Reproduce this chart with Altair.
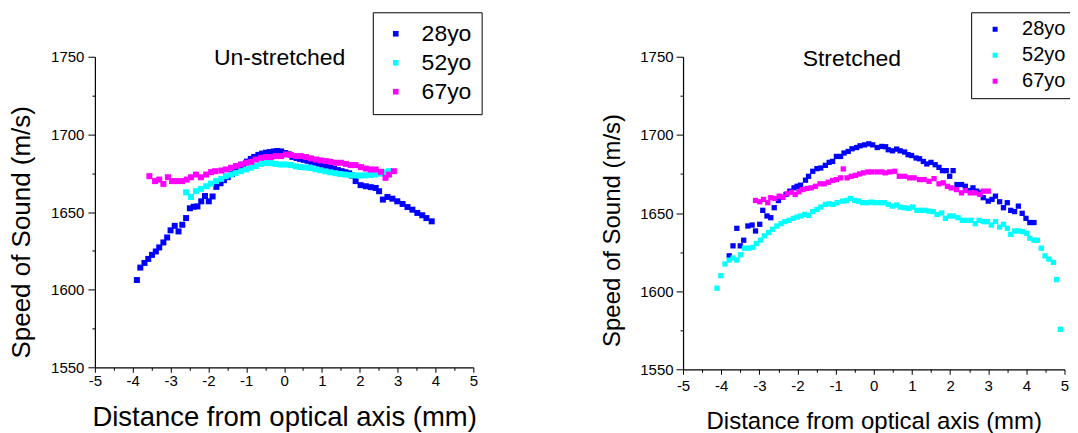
import altair as alt
import pandas as pd

AGES = ["28yo", "52yo", "67yo"]
COLORS = ["#0000ff", "#00ffff", "#ff00ff"]

X_MAJOR = [-5, -4, -3, -2, -1, 0, 1, 2, 3, 4, 5]
X_MINOR = [-4.5, -3.5, -2.5, -1.5, -0.5, 0.5, 1.5, 2.5, 3.5, 4.5]
Y_MAJOR = [1550, 1600, 1650, 1700, 1750]
Y_MINOR = [1575, 1625, 1675, 1725]

unstretched_28 = [(-3.89,1606.2),(-3.80,1614.2),(-3.69,1617.2),(-3.59,1619.8),(-3.49,1622.4),(-3.39,1624.6),(-3.30,1627.2),(-3.19,1630.4),(-3.09,1633.6),(-3.00,1638.2),(-2.89,1641.1),(-2.79,1637.5),(-2.69,1641.8),(-2.59,1646.1),(-2.49,1652.4),(-2.39,1653.4),(-2.29,1653.6),(-2.19,1656.9),(-2.09,1660.3),(-1.99,1656.9),(-1.89,1660.0),(-1.79,1666.2),(-1.68,1668.5),(-1.59,1670.5),(-1.49,1672.5),(-1.38,1674.5),(-1.29,1676.5),(-1.18,1678.5),(-1.08,1680.5),(-0.98,1682.5),(-0.88,1684.2),(-0.79,1685.5),(-0.68,1686.8),(-0.58,1687.6),(-0.48,1688.2),(-0.38,1688.6),(-0.27,1689.0),(-0.18,1689.3),(-0.08,1689.0),(0.03,1688.0),(0.12,1687.2),(0.22,1685.5),(0.33,1684.8),(0.42,1684.2),(0.52,1683.6),(0.62,1683.0),(0.72,1682.4),(0.82,1681.8),(0.92,1681.0),(1.02,1680.2),(1.12,1679.5),(1.22,1678.6),(1.32,1677.8),(1.42,1677.0),(1.52,1676.3),(1.62,1675.6),(1.72,1674.9),(1.79,1673.5),(1.89,1669.9),(2.02,1667.3),(2.16,1666.6),(2.29,1666.0),(2.42,1665.5),(2.51,1663.4),(2.61,1658.0),(2.73,1659.7),(2.86,1658.6),(2.99,1656.9),(3.13,1655.2),(3.26,1653.2),(3.39,1651.5),(3.52,1649.4),(3.65,1647.9),(3.76,1646.1),(3.90,1644.0)]
unstretched_52 = [(-2.59,1662.7),(-2.46,1659.7),(-2.33,1663.4),(-2.20,1664.9),(-2.06,1666.6),(-1.93,1668.3),(-1.80,1669.9),(-1.66,1671.3),(-1.54,1673.1),(-1.40,1674.1),(-1.28,1675.2),(-1.14,1676.3),(-1.01,1677.4),(-0.88,1678.5),(-0.75,1679.6),(-0.62,1681.0),(-0.49,1681.5),(-0.35,1681.5),(-0.23,1681.0),(-0.09,1680.6),(0.04,1680.6),(0.17,1680.3),(0.31,1679.4),(0.43,1679.0),(0.57,1678.7),(0.69,1678.4),(0.83,1677.5),(0.96,1676.9),(1.09,1676.2),(1.22,1675.6),(1.35,1675.0),(1.48,1674.5),(1.62,1674.1),(1.75,1673.8),(1.88,1673.6),(2.01,1673.5),(2.14,1673.6),(2.28,1673.8),(2.40,1674.2),(2.54,1674.7),(2.66,1675.5),(2.77,1676.3)]
unstretched_67 = [(-3.56,1673.1),(-3.41,1669.9),(-3.30,1670.9),(-3.19,1668.1),(-3.07,1672.4),(-2.96,1669.9),(-2.84,1669.9),(-2.70,1669.9),(-2.57,1670.9),(-2.46,1672.4),(-2.33,1674.1),(-2.20,1672.4),(-2.06,1674.1),(-1.93,1675.7),(-1.82,1676.3),(-1.66,1676.7),(-1.54,1677.4),(-1.40,1678.5),(-1.27,1679.6),(-1.14,1680.6),(-1.01,1681.7),(-0.87,1682.3),(-0.75,1683.8),(-0.61,1684.9),(-0.48,1685.4),(-0.35,1685.4),(-0.22,1686.0),(-0.08,1686.0),(0.05,1687.1),(0.18,1686.7),(0.32,1686.0),(0.44,1686.0),(0.58,1685.4),(0.71,1684.5),(0.84,1683.8),(0.97,1683.2),(1.11,1682.8),(1.23,1682.3),(1.37,1681.7),(1.50,1681.7),(1.63,1681.0),(1.76,1680.2),(1.89,1680.2),(2.03,1678.9),(2.16,1678.0),(2.29,1677.4),(2.42,1677.4),(2.56,1675.9),(2.68,1672.0),(2.77,1674.1),(2.90,1676.3)]

stretched_28 = [(-3.79,1622.6),(-3.69,1629.0),(-3.59,1640.2),(-3.50,1629.0),(-3.41,1632.6),(-3.30,1641.7),(-3.19,1642.3),(-3.10,1638.5),(-2.99,1642.8),(-2.91,1651.7),(-2.80,1648.1),(-2.70,1647.0),(-2.61,1653.4),(-2.50,1658.0),(-2.40,1660.1),(-2.30,1661.9),(-2.20,1664.0),(-2.09,1666.1),(-2.01,1667.1),(-1.92,1667.8),(-1.79,1671.0),(-1.71,1673.5),(-1.60,1676.7),(-1.49,1678.4),(-1.39,1678.8),(-1.27,1680.5),(-1.17,1682.4),(-1.08,1683.0),(-0.98,1686.2),(-0.87,1686.2),(-0.78,1688.4),(-0.67,1689.4),(-0.57,1691.1),(-0.45,1691.9),(-0.36,1693.0),(-0.24,1693.6),(-0.13,1694.3),(-0.03,1693.6),(0.09,1691.9),(0.21,1692.6),(0.31,1692.4),(0.38,1690.5),(0.49,1689.8),(0.60,1690.9),(0.69,1689.8),(0.81,1689.0),(0.90,1687.3),(0.99,1686.8),(1.11,1685.2),(1.20,1684.7),(1.30,1683.0),(1.39,1681.4),(1.50,1682.4),(1.61,1680.9),(1.71,1679.2),(1.80,1677.1),(1.90,1677.1),(1.99,1673.5),(2.08,1677.1),(2.18,1668.2),(2.30,1668.2),(2.40,1667.1),(2.50,1664.4),(2.60,1666.1),(2.70,1664.0),(2.78,1662.9),(2.87,1659.8),(3.00,1657.6),(3.10,1658.7),(3.19,1660.8),(3.30,1657.2),(3.40,1653.4),(3.50,1656.6),(3.59,1651.7),(3.69,1650.9),(3.79,1654.4),(3.89,1649.8),(3.99,1646.6),(4.09,1643.9),(4.20,1643.9)]
stretched_52 = [(-4.11,1601.9),(-4.01,1609.9),(-3.90,1617.4),(-3.79,1619.9),(-3.69,1621.2),(-3.59,1619.9),(-3.49,1623.3),(-3.39,1627.5),(-3.28,1627.5),(-3.17,1628.0),(-3.08,1630.5),(-2.97,1632.6),(-2.87,1635.4),(-2.76,1637.5),(-2.66,1639.6),(-2.54,1641.7),(-2.43,1643.2),(-2.33,1644.5),(-2.22,1645.3),(-2.11,1646.6),(-2.01,1647.4),(-1.92,1648.1),(-1.81,1649.1),(-1.71,1648.5),(-1.60,1650.9),(-1.49,1652.3),(-1.39,1653.8),(-1.27,1655.5),(-1.17,1655.9),(-1.07,1655.5),(-0.96,1656.6),(-0.82,1657.6),(-0.72,1658.0),(-0.61,1659.3),(-0.50,1658.0),(-0.40,1657.6),(-0.29,1656.6),(-0.18,1656.6),(-0.07,1657.0),(0.03,1656.6),(0.16,1656.6),(0.28,1656.6),(0.38,1655.5),(0.49,1654.4),(0.60,1655.1),(0.69,1653.8),(0.81,1653.4),(0.92,1653.0),(1.02,1653.8),(1.13,1651.7),(1.24,1651.7),(1.34,1651.7),(1.45,1651.2),(1.56,1650.9),(1.66,1649.1),(1.78,1650.0),(1.88,1646.6),(1.99,1648.1),(2.09,1648.1),(2.21,1647.0),(2.32,1645.3),(2.42,1645.3),(2.55,1645.3),(2.66,1643.2),(2.76,1645.3),(2.87,1644.5),(2.98,1644.5),(3.08,1642.3),(3.19,1644.5),(3.30,1641.0),(3.40,1642.8),(3.50,1640.2),(3.59,1636.4),(3.69,1638.5),(3.79,1638.5),(3.90,1638.1),(4.01,1637.0),(4.09,1633.9),(4.20,1632.6),(4.29,1632.6),(4.39,1627.5),(4.49,1622.6),(4.59,1620.5),(4.71,1618.4),(4.79,1607.4),(4.89,1575.6)]
stretched_67 = [(-3.10,1658.0),(-2.99,1657.2),(-2.89,1658.7),(-2.78,1656.6),(-2.70,1659.8),(-2.59,1659.3),(-2.48,1660.8),(-2.38,1660.1),(-2.27,1662.3),(-2.16,1663.3),(-2.06,1661.9),(-1.96,1663.6),(-1.86,1665.0),(-1.75,1665.7),(-1.64,1666.1),(-1.53,1667.1),(-1.41,1668.7),(-1.30,1668.7),(-1.19,1669.7),(-1.08,1670.8),(-0.98,1671.4),(-0.87,1672.5),(-0.80,1678.2),(-0.70,1672.5),(-0.59,1673.5),(-0.48,1674.1),(-0.37,1675.0),(-0.27,1675.7),(-0.15,1676.3),(-0.06,1676.3),(0.08,1676.3),(0.21,1676.3),(0.30,1675.7),(0.42,1676.3),(0.55,1676.7),(0.67,1673.5),(0.81,1673.5),(0.94,1672.5),(1.06,1672.5),(1.20,1671.4),(1.32,1671.4),(1.45,1670.3),(1.58,1672.0),(1.71,1668.7),(1.82,1669.3),(1.93,1667.1),(2.03,1666.1),(2.17,1665.0),(2.30,1662.9),(2.40,1664.4),(2.53,1662.9),(2.66,1662.9),(2.78,1661.9),(2.87,1664.0),(3.00,1664.0)]

FONT = "Liberation Sans"
X_TITLE = "Distance from optical axis (mm)"
Y_TITLE = "Speed of Sound (m/s)"
PLAIN = "datum.value + ''"


def to_frame(series_list):
    rows = []
    for age, pts in zip(AGES, series_list):
        for x, y in pts:
            rows.append({"x": x, "speed": y, "age": age})
    return pd.DataFrame(rows)


def panel(df, title, s):
    xs = alt.Scale(domain=[-5, 5], nice=False, zero=False)
    ys = alt.Scale(domain=[1550, 1750], nice=False, zero=False)
    common = dict(grid=False, domainColor="black", tickColor="black",
                  labelColor="black", titleColor="black", labelFont=FONT,
                  titleFont=FONT, titleFontWeight="normal", labelFlush=False,
                  labelOverlap=False, domainWidth=1.2, tickWidth=1,
                  labelExpr=PLAIN, labelFontSize=15)
    color = alt.Color(
        "age:N", sort=AGES,
        scale=alt.Scale(domain=AGES, range=COLORS),
        legend=alt.Legend(
            title=None, orient="none", legendX=s["lx"], legendY=s["ly"],
            strokeColor="black", fillColor="white",
            padding=s["lpad"], labelFont=FONT, labelFontSize=s["lfs"],
            labelColor="black", symbolType="square", symbolSize=s["ss"],
            symbolStrokeWidth=0, symbolOffset=s["so"], labelOffset=s["lo"],
            rowPadding=s["rp"]))
    main = alt.Chart(df).mark_point(
        shape="square", filled=True, opacity=1, size=s["ms"]).encode(
        x=alt.X("x:Q", scale=xs, axis=alt.Axis(
            values=X_MAJOR, orient="bottom", title=X_TITLE, tickSize=5,
            labelPadding=s["xlp"], titleFontSize=s["xtfs"],
            titlePadding=s["xtp"], **common)),
        y=alt.Y("speed:Q", scale=ys, axis=alt.Axis(
            values=Y_MAJOR, orient="left", title=Y_TITLE, tickSize=7,
            labelPadding=s["ylp"], titleFontSize=s["ytfs"],
            titlePadding=s["ytp"], titleY=s["tY"], **common)),
        color=color,
    )
    minor = alt.Chart(df).mark_point(opacity=0).encode(
        x=alt.X("x:Q", scale=xs, axis=alt.Axis(
            values=X_MINOR, orient="bottom", labels=False, domain=False,
            tickSize=3, tickColor="black", title=None, grid=False)),
        y=alt.Y("speed:Q", scale=ys, axis=alt.Axis(
            values=Y_MINOR, orient="left", labels=False, domain=False,
            tickSize=3, tickColor="black", title=None, grid=False)),
    )
    return alt.layer(main, minor).resolve_axis(
        x="independent", y="independent").properties(
        width=s["w"], height=s["h"],
        title=alt.TitleParams(text=title, anchor="middle", frame="group",
                              font=FONT, fontSize=23, fontWeight="normal",
                              color="black", baseline="alphabetic",
                              offset=0, dy=s["tdy"], dx=s["tdx"]))


left = panel(to_frame([unstretched_28, unstretched_52, unstretched_67]),
             "Un-stretched",
             dict(w=379, h=311, lx=278.3, ly=-44.5, lpad=10, lfs=23, ss=32,
                  so=1.5, lo=14.4, rp=5, ms=36, xtfs=27.5, xtp=14.6, xlp=1.5,
                  ytfs=26, ytp=16.6, ylp=4, tY=175.3, tdy=76.5, tdx=-4.5))
right = panel(to_frame([stretched_28, stretched_52, stretched_67]),
              "Stretched",
              dict(w=382, h=313, lx=288.5, ly=-44.5, lpad=7, lfs=20, ss=25,
                   so=7, lo=17, rp=6, ms=28, xtfs=24, xtp=16.7, xlp=4,
                   ytfs=24, ytp=15.7, ylp=3, tY=173.5, tdy=77, tdx=-22))

chart = alt.hconcat(left, right, spacing=117).resolve_scale(
    color="independent").properties(
    padding={"left": 0, "top": 3.5, "right": -3.5, "bottom": 0}
).configure_view(stroke=None).configure_legend(strokeWidth=1)

chart.save("out.html", embed_options={"renderer": "svg", "actions": False})
